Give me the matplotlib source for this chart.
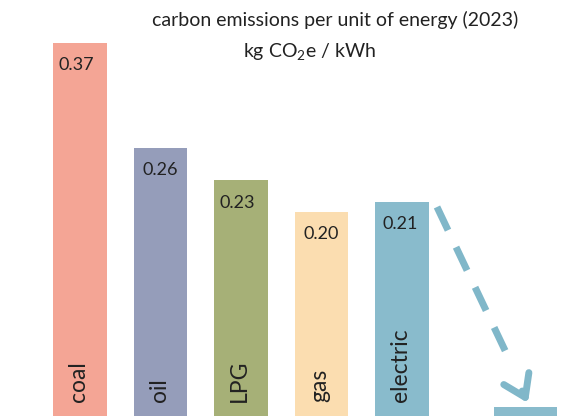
import matplotlib
matplotlib.use('Agg')
import matplotlib.pyplot as plt

plt.rcParams['font.family'] = ['Lato', 'DejaVu Sans']
plt.rcParams['mathtext.fontset'] = 'custom'
plt.rcParams['mathtext.rm'] = 'Lato'

# data
fuels = ['coal', 'oil', 'LPG', 'gas', 'electric']
emissions = [0.366, 0.263, 0.231, 0.200, 0.210]
bar_colors = ['#F4A595', '#959DBA', '#A6B077', '#FBDDB0', '#89BBCC']
future_value = 0.009
text_color = '#222222'
arrow_color = '#80B7C9'

fig = plt.figure(figsize=(5.81, 4.16), dpi=100)
ax = fig.add_axes([0, 0, 1, 1])
ax.set_xlim(-0.994, 6.224)
ax.set_ylim(0, 0.408)
ax.axis('off')

positions = list(range(len(fuels)))
ax.bar(positions, emissions, width=0.67, color=bar_colors)
ax.bar([5.534], [future_value], width=0.78, color=bar_colors[-1])

label_dx = [-3, 0, -3, 0, -1]
for x, v, name, dx in zip(positions, emissions, fuels, label_dx):
    ax.annotate(f'{v:.2f}', (x, v), xytext=(dx, -16), textcoords='offset points',
                ha='center', va='center', fontsize=13, color=text_color)
    ax.annotate(name, (x, 0), xytext=(-1, 10), textcoords='offset points',
                ha='center', va='bottom', rotation=90, fontsize=16.5, color=text_color)

# dashed arrow from electric down to the small bar
x0, y0 = 4.435, 0.205
x1, y1 = 5.565, 0.0127
ax.plot([x0, 5.354], [y0, 0.052], color=arrow_color, lw=5,
        linestyle=(0, (3.7, 2.7)), solid_capstyle='butt', dash_capstyle='butt')
ax.annotate('', xy=(x1, y1), xytext=(5.494, 0.0245),
            arrowprops=dict(arrowstyle='->,head_length=1.5,head_width=1.0',
                            color=arrow_color, lw=5, shrinkA=0, shrinkB=0))

fig.text(0.5775, 0.952, 'carbon emissions per unit of energy (2023)', ha='center',
         va='center', fontsize=14, color=text_color)
fig.text(0.532, 0.875, 'kg CO$_2$e / kWh', ha='center', va='center',
         fontsize=14, color=text_color)

fig.savefig('out.png', dpi=100)
